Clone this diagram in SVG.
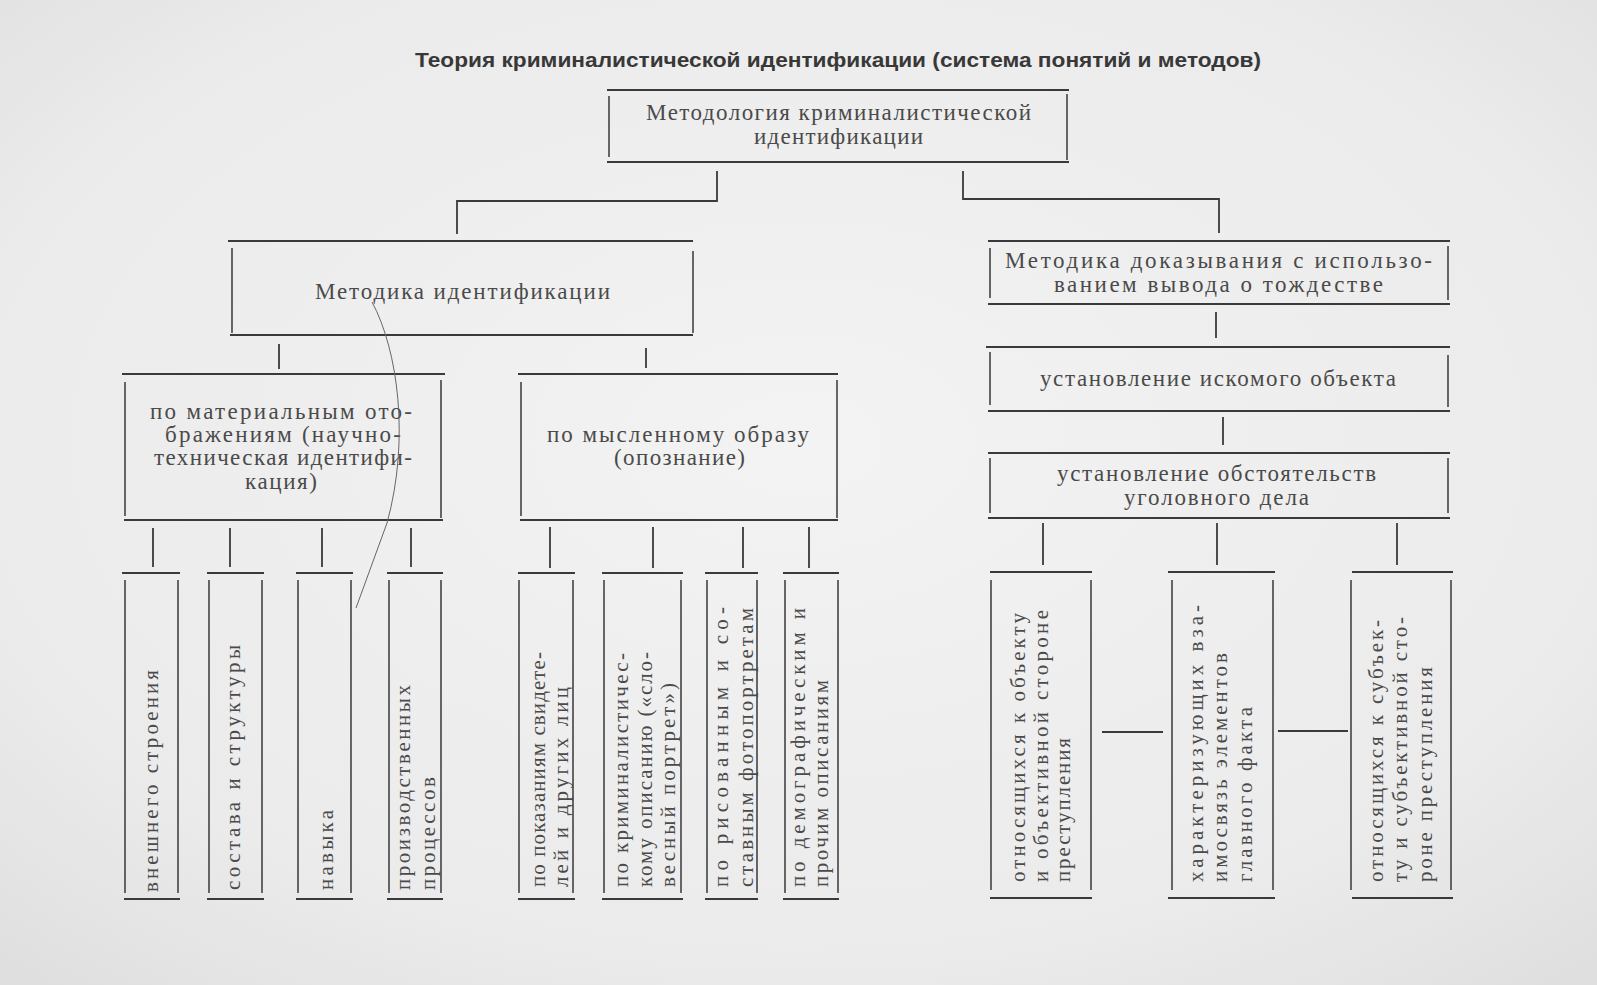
<svg xmlns="http://www.w3.org/2000/svg" width="1597" height="985" viewBox="0 0 1597 985">
<defs>
<radialGradient id="paper" cx="50%" cy="45%" r="75%">
<stop offset="0" stop-color="#f3f3f3"/>
<stop offset="0.7" stop-color="#ebebeb"/>
<stop offset="1" stop-color="#dedede"/>
</radialGradient>
</defs>
<style>
.h{stroke:#3a3a3a;stroke-width:2;fill:none}
.v{stroke:#444;stroke-width:1.6;fill:none}
.c{stroke:#3a3a3a;stroke-width:1.8;fill:none}
text{font-family:"Liberation Serif","DejaVu Serif",serif;fill:#4a4a4a}
.t{font-size:23px}
.r{font-size:21px}
.title{font-family:"Liberation Sans","DejaVu Sans",sans-serif;font-weight:bold;font-size:20px;fill:#383838}
</style>
<rect x="0" y="0" width="1597" height="985" fill="url(#paper)"/>

<text class="title" x="415" y="67" textLength="846" lengthAdjust="spacingAndGlyphs">Теория  криминалистической  идентификации  (система  понятий  и  методов)</text>

<g id="connectors">
<path class="c" d="M717,171V201H457V234"/>
<path class="c" d="M963,171V199H1219V233"/>
<path class="c" d="M279,344V369M646,348V368"/>
<path class="c" d="M153,528V567M230,528V567M322,528V567M411,528V567"/>
<path class="c" d="M550,527V568M653,527V568M743,527V568M809,527V568"/>
<path class="c" d="M1216,312V338M1223,417V445"/>
<path class="c" d="M1043,523V565M1217,523V565M1397,523V565"/>
<path class="c" d="M1102,732H1163M1278,731H1348"/>
</g>

<g id="n-metodologiya">
<path class="h" d="M607,90H1069M607,162H1069"/>
<path class="v" d="M609,96V157M1067,94V160"/>
<text class="t" x="646" y="120" textLength="385">Методология криминалистической</text>
<text class="t" x="754" y="144" textLength="169">идентификации</text>
</g>

<g id="n-metodika-ident">
<path class="h" d="M228,241H693M230,335H693"/>
<path class="v" d="M232,248V333M693,251V333"/>
<text class="t" x="315" y="299" textLength="295">Методика  идентификации</text>
</g>

<g id="n-metodika-dokaz">
<path class="h" d="M988,241H1450M988,304H1450"/>
<path class="v" d="M990,248V298M1448,246V300"/>
<text class="t" x="1005" y="268" textLength="427">Методика доказывания с использо-</text>
<text class="t" x="1054" y="292" textLength="329">ванием вывода о тождестве</text>
</g>

<g id="n-iskomogo">
<path class="h" d="M986,347H1450M988,411H1450"/>
<path class="v" d="M990,352V405M1448,355V407"/>
<text class="t" x="1040" y="386" textLength="356">установление искомого объекта</text>
</g>

<g id="n-obstoyatelstv">
<path class="h" d="M988,453H1450M988,518H1450"/>
<path class="v" d="M990,458V513M1448,458V513"/>
<text class="t" x="1057" y="481" textLength="319">установление обстоятельств</text>
<text class="t" x="1124" y="505" textLength="185">уголовного дела</text>
</g>

<g id="n-material">
<path class="h" d="M122,374H445M124,520H443"/>
<path class="v" d="M125,382V516M441,380V518"/>
<text class="t" x="150" y="419" textLength="262">по материальным ото-</text>
<text class="t" x="165" y="442" textLength="236">бражениям (научно-</text>
<text class="t" x="154" y="465" textLength="258">техническая идентифи-</text>
<text class="t" x="245" y="489" textLength="72">кация)</text>
</g>

<g id="n-myslennomu">
<path class="h" d="M518,374H838M520,520H838"/>
<path class="v" d="M521,382V516M837,380V518"/>
<text class="t" x="547" y="442" textLength="262">по мысленному образу</text>
<text class="t" x="614" y="465" textLength="131">(опознание)</text>
</g>

<g id="n-vneshnego">
<path class="h" d="M122,573H180M124,899H180"/>
<path class="v" d="M125,580V893M178,580V893"/>
<text class="r" transform="translate(158,892) rotate(-90)" textLength="222">внешнего  строения</text>
</g>

<g id="n-sostava">
<path class="h" d="M207,573H264M207,899H264"/>
<path class="v" d="M209,580V893M262,580V893"/>
<text class="r" transform="translate(240,890) rotate(-90)" textLength="245">состава и структуры</text>
</g>

<g id="n-navyka">
<path class="h" d="M296,573H353M296,899H353"/>
<path class="v" d="M298,580V893M351,580V893"/>
<text class="r" transform="translate(333,890) rotate(-90)" textLength="80">навыка</text>
</g>

<g id="n-proizv">
<path class="h" d="M387,573H443M387,899H443"/>
<path class="v" d="M389,580V893M441,580V893"/>
<text class="r" transform="translate(410,890) rotate(-90)" textLength="205">производственных</text>
<text class="r" transform="translate(435,890) rotate(-90)" textLength="113">процессов</text>
</g>

<g id="n-pokazaniyam">
<path class="h" d="M518,573H575M518,899H575"/>
<path class="v" d="M519,580V893M573,580V893"/>
<text class="r" transform="translate(545,887) rotate(-90)" textLength="235">по показаниям свидете-</text>
<text class="r" transform="translate(568,887) rotate(-90)" textLength="200">лей и других лиц</text>
</g>

<g id="n-slovesny">
<path class="h" d="M602,573H683M602,899H683"/>
<path class="v" d="M604,580V893M681,580V893"/>
<text class="r" transform="translate(628,887) rotate(-90)" textLength="234">по криминалистичес-</text>
<text class="r" transform="translate(652,887) rotate(-90)" textLength="235">кому описанию («сло-</text>
<text class="r" transform="translate(675,887) rotate(-90)" textLength="204">весный портрет»)</text>
</g>

<g id="n-risovannym">
<path class="h" d="M705,573H758M705,899H758"/>
<path class="v" d="M707,580V893M757,580V893"/>
<text class="r" transform="translate(728,887) rotate(-90)" textLength="280">по рисованным и со-</text>
<text class="r" transform="translate(753,887) rotate(-90)" textLength="279">ставным фотопортретам</text>
</g>

<g id="n-demograf">
<path class="h" d="M783,573H839M783,899H839"/>
<path class="v" d="M785,580V893M838,580V893"/>
<text class="r" transform="translate(805,887) rotate(-90)" textLength="279">по демографическим и</text>
<text class="r" transform="translate(828,887) rotate(-90)" textLength="207">прочим описаниям</text>
</g>

<g id="n-obektu">
<path class="h" d="M990,572H1092M990,898H1092"/>
<path class="v" d="M991,580V890M1091,580V890"/>
<text class="r" transform="translate(1025,882) rotate(-90)" textLength="269">относящихся к объекту</text>
<text class="r" transform="translate(1048,882) rotate(-90)" textLength="272">и объективной стороне</text>
<text class="r" transform="translate(1070,882) rotate(-90)" textLength="144">преступления</text>
</g>

<g id="n-vzaimosvyaz">
<path class="h" d="M1168,572H1275M1168,898H1275"/>
<path class="v" d="M1172,580V890M1273,580V890"/>
<text class="r" transform="translate(1203,882) rotate(-90)" textLength="277">характеризующих вза-</text>
<text class="r" transform="translate(1227,882) rotate(-90)" textLength="229">имосвязь элементов</text>
<text class="r" transform="translate(1252,882) rotate(-90)" textLength="175">главного факта</text>
</g>

<g id="n-subektu">
<path class="h" d="M1352,572H1453M1352,898H1453"/>
<path class="v" d="M1351,580V890M1451,580V890"/>
<text class="r" transform="translate(1383,882) rotate(-90)" textLength="262">относящихся к субъек-</text>
<text class="r" transform="translate(1407,882) rotate(-90)" textLength="265">ту и субъективной сто-</text>
<text class="r" transform="translate(1432,882) rotate(-90)" textLength="215">роне преступления</text>
</g>

<path d="M372,302C398,350 410,440 387,523L356,608" stroke="#666" stroke-width="1" fill="none"/>
</svg>
